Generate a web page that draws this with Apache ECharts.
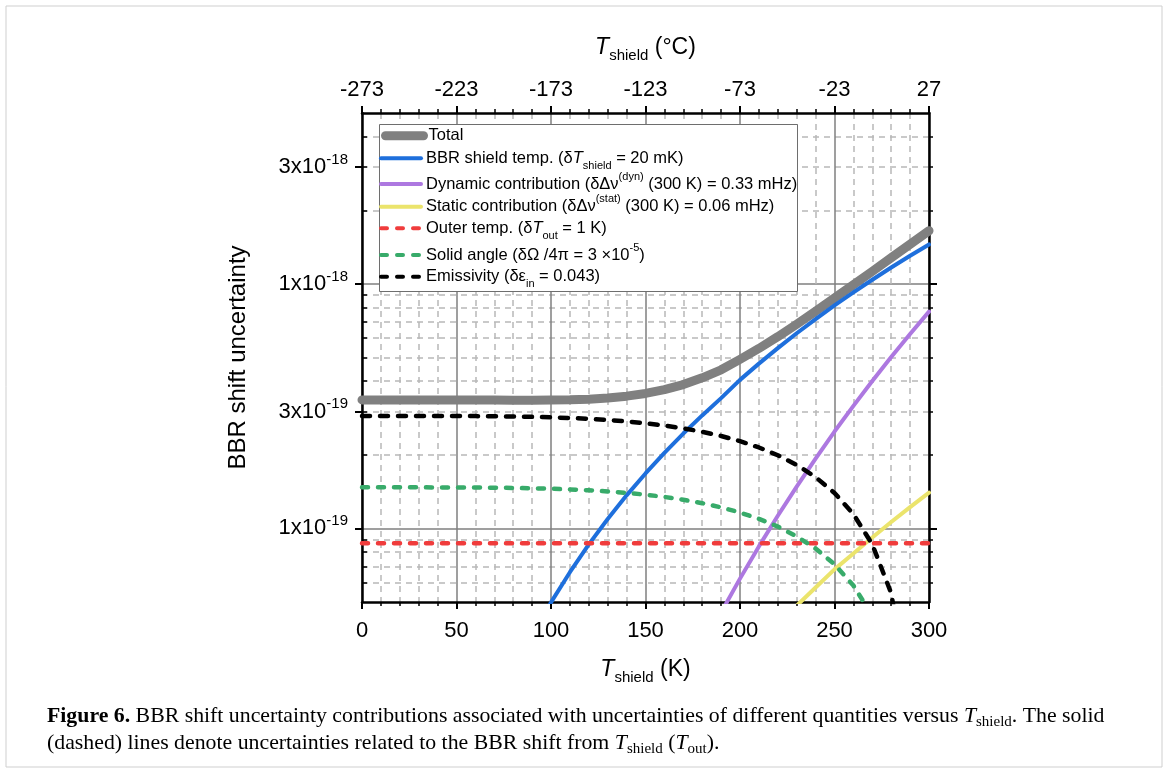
<!DOCTYPE html>
<html>
<head>
<meta charset="utf-8">
<script src="https://cdn.jsdelivr.net/npm/echarts@6/dist/echarts.min.js"></script>
<style>
html,body{margin:0;padding:0;background:#fff;}
#chart{width:1168px;height:773px;}
</style>
</head>
<body>
<div id="chart"></div>
<script>
// ---- data ----
const tempK = [0,10,20,30,40,50,60,70,80,90,100,110,120,130,140,150,160,170,180,190,200,210,220,230,240,250,260,270,280,290,300];

const totalVals = [3.353e-19,3.353e-19,3.352e-19,3.352e-19,3.351e-19,3.350e-19,3.349e-19,3.347e-19,3.346e-19,3.346e-19,3.349e-19,
  3.356e-19,3.378e-19,3.414e-19,3.474e-19,3.564e-19,3.694e-19,3.876e-19,4.131e-19,4.453e-19,4.914e-19,
  5.445e-19,6.083e-19,6.841e-19,7.725e-19,8.754e-19,9.923e-19,1.1259e-18,1.2793e-18,1.4526e-18,1.650e-18];

const shieldVals = [null,null,null,null,null,null,null,null,null,3.63e-20,4.98e-20,
  6.62e-20,8.60e-20,1.093e-19,1.365e-19,1.678e-19,2.035e-19,2.443e-19,2.898e-19,3.41e-19,4.05e-19,
  4.72e-19,5.46e-19,6.28e-19,7.18e-19,8.17e-19,9.24e-19,1.040e-18,1.167e-18,1.303e-18,1.45e-18];

const dynamicVals = [null,null,null,null,null,null,null,null,null,null,null,
  null,null,null,null,null,null,null,null,4.53e-20,6.23e-20,
  8.44e-20,1.126e-19,1.483e-19,1.93e-19,2.49e-19,3.17e-19,4.01e-19,5.02e-19,6.24e-19,7.70e-19];

const staticVals = [null,null,null,null,null,null,null,null,null,null,null,
  null,null,null,null,null,null,null,null,null,null,
  null,null,4.83e-20,5.73e-20,6.80e-20,7.90e-20,9.18e-20,1.062e-19,1.222e-19,1.40e-19];

const outerVals = tempK.map(() => 8.69e-20);

const solidAngleVals = [1.472e-19,1.472e-19,1.472e-19,1.472e-19,1.471e-19,1.471e-19,1.469e-19,1.467e-19,1.464e-19,1.459e-19,1.453e-19,
  1.443e-19,1.432e-19,1.416e-19,1.397e-19,1.374e-19,1.345e-19,1.310e-19,1.268e-19,1.219e-19,1.161e-19,
  1.094e-19,1.017e-19,9.28e-20,8.27e-20,7.13e-20,5.84e-20,4.39e-20,null,null,null];

const emissivityVals = [2.884e-19,2.884e-19,2.884e-19,2.884e-19,2.883e-19,2.882e-19,2.879e-19,2.875e-19,2.868e-19,2.859e-19,2.846e-19,
  2.829e-19,2.805e-19,2.775e-19,2.738e-19,2.691e-19,2.634e-19,2.566e-19,2.484e-19,2.388e-19,2.275e-19,
  2.143e-19,1.992e-19,1.818e-19,1.621e-19,1.396e-19,1.144e-19,8.60e-20,5.43e-20,1.90e-20,null];

const yLabelTicks = [1e-19, 3e-19, 1e-18, 3e-18];
const yMajorTicks = [1e-19, 1e-18];
const yMinorTicks = [6e-20,7e-20,8e-20,9e-20,2e-19,3e-19,4e-19,5e-19,6e-19,7e-19,8e-19,9e-19,2e-18,3e-18,4e-18];

const seriesNames = ['Total','BBR shield temp.','Dynamic contribution','Static contribution','Outer temp.','Solid angle','Emissivity'];
const legendTexts = [
  'Total',
  'BBR shield temp. (δ{i|T}{sub|shield} = 20 mK)',
  'Dynamic contribution (δΔν{sup|(dyn)} (300 K) = 0.33 mHz)',
  'Static contribution (δΔν{sup|(stat)} (300 K) = 0.06 mHz)',
  'Outer temp. (δ{i|T}{sub|out} = 1 K)',
  'Solid angle (δΩ /4π = 3 ×10{sup|-5})',
  'Emissivity (δε{sub|in} = 0.043)'
];

// ---- chart ----
const FONT = 'Liberation Sans, Arial, sans-serif';
const SERIF = 'Liberation Serif, Times New Roman, serif';
const chart = echarts.init(document.getElementById('chart'), null, {renderer: 'canvas'});

const pair = arr => tempK.map((k, i) => [k, arr[i]]);

function sciLabel(v) {
  const e = Math.floor(Math.log10(v) + 1e-9);
  const m = Math.round(v / Math.pow(10, e));
  return m + 'x10{sup|' + e + '}';
}

const yMin = 5e-20, yMax = 5e-18;
const baseY = {type: 'log', logBase: 10, min: yMin, max: yMax, gridIndex: 0};

const colors = ['#808080', '#1e6fdc', '#ad78e0', '#ebe46c', '#f03c3c', '#38ab6a', '#000000'];
const widths = [9, 4, 4, 4, 4.5, 4.5, 4.5];
const dashes = ['solid', 'solid', 'solid', 'solid', [6, 10], [6, 10], [8, 10]];

const legendRich = {
  i: {fontStyle: 'italic', fontSize: 16.5, fontFamily: FONT, lineHeight: 26, verticalAlign: 'middle'},
  sub: {fontSize: 11, fontFamily: FONT, lineHeight: 13, verticalAlign: 'bottom'},
  sup: {fontSize: 11, fontFamily: FONT, lineHeight: 13, verticalAlign: 'top'}
};
const rowCenters = [135.7, 158.3, 184, 206.7, 228.3, 255, 276.7];

const legends = seriesNames.map((n, idx) => ({
  data: [n],
  left: idx === 0 ? 381 : 379,
  top: rowCenters[idx] - 13,
  orient: 'vertical',
  padding: 0,
  itemWidth: idx === 0 ? 38 : 40,
  itemHeight: 14,
  selectedMode: false,
  z: 5,
  itemStyle: {opacity: 0, borderWidth: 0},
  lineStyle: {width: idx === 0 ? 9 : 4, color: colors[idx], type: idx >= 4 ? [6, 10] : 'solid', cap: 'round'},
  formatter: () => legendTexts[idx],
  textStyle: {fontSize: 16.5, fontFamily: FONT, color: '#000', lineHeight: 26, rich: legendRich}
}));

const lineSeries = (idx, arr, z) => ({
  name: seriesNames[idx],
  type: 'line',
  data: pair(arr),
  xAxisIndex: 0,
  yAxisIndex: 0,
  showSymbol: false,
  symbol: 'none',
  clip: true,
  z: z,
  lineStyle: {color: colors[idx], width: widths[idx], type: dashes[idx], cap: 'round', join: 'round'},
  itemStyle: {color: colors[idx]}
});

const nameRich = {
  i: {fontStyle: 'italic', fontSize: 23, fontFamily: FONT, lineHeight: 30},
  s: {fontSize: 15, fontFamily: FONT, lineHeight: 15, verticalAlign: 'bottom'}
};

const option = {
  animation: false,
  backgroundColor: '#fff',
  grid: {left: 362, right: 239, top: 113, bottom: 171, containLabel: false},
  legend: legends,
  xAxis: [
    {
      type: 'value', position: 'bottom', min: 0, max: 300, interval: 50,
      name: '{i|T}{s|shield} (K)', nameLocation: 'middle', nameGap: 53,
      nameTextStyle: {fontSize: 23, fontFamily: FONT, color: '#000', lineHeight: 30, rich: nameRich},
      axisLine: {show: true, onZero: false, lineStyle: {color: '#000', width: 2.5}},
      axisTick: {show: true, inside: false, length: 7, lineStyle: {color: '#000', width: 2}},
      minorTick: {show: true, splitNumber: 5, length: 4, lineStyle: {color: '#000', width: 1.5}},
      axisLabel: {fontSize: 22, fontFamily: FONT, color: '#000', margin: 18},
      splitLine: {show: true, lineStyle: {color: '#7f7f7f', width: 1.5}},
      minorSplitLine: {show: true, lineStyle: {color: '#b8b8b8', width: 1.5, type: [6, 5]}}
    },
    {
      type: 'value', position: 'top', min: 0, max: 300, interval: 50,
      name: '{i|T}{s|shield} (°C)', nameLocation: 'middle', nameGap: 50,
      nameTextStyle: {fontSize: 23, fontFamily: FONT, color: '#000', lineHeight: 30, rich: nameRich},
      axisLine: {show: true, onZero: false, lineStyle: {color: '#000', width: 2.5}},
      axisTick: {show: true, inside: false, length: 7, lineStyle: {color: '#000', width: 2}},
      minorTick: {show: true, splitNumber: 5, length: 4, lineStyle: {color: '#000', width: 1.5}},
      axisLabel: {fontSize: 22, fontFamily: FONT, color: '#000', margin: 12, formatter: v => String(v - 273)},
      splitLine: {show: false}
    }
  ],
  yAxis: [
    Object.assign({}, baseY, {
      position: 'left',
      name: 'BBR shift uncertainty', nameLocation: 'middle', nameGap: 112,
      nameTextStyle: {fontSize: 24, fontFamily: FONT, color: '#000'},
      axisLine: {show: true, onZero: false, lineStyle: {color: '#000', width: 2.5}},
      axisTick: {show: true, inside: false, length: 7, customValues: yLabelTicks, lineStyle: {color: '#000', width: 2}},
      axisLabel: {show: true, customValues: yLabelTicks, formatter: sciLabel, margin: 14,
        fontSize: 22, fontFamily: FONT, color: '#000', lineHeight: 30,
        rich: {sup: {fontSize: 15, fontFamily: FONT, lineHeight: 15, verticalAlign: 'top'}}},
      splitLine: {show: false}
    }),
    Object.assign({}, baseY, {
      position: 'left', offset: 0,
      axisLine: {show: false},
      axisTick: {show: true, inside: true, length: 5, customValues: yMinorTicks, lineStyle: {color: '#000', width: 1.5}},
      axisLabel: {show: false},
      splitLine: {show: true, lineStyle: {color: '#b8b8b8', width: 1.5, type: [6, 5]}}
    }),
    Object.assign({}, baseY, {
      position: 'left', offset: 0,
      axisLine: {show: false},
      axisTick: {show: false, customValues: yMajorTicks},
      axisLabel: {show: false},
      splitLine: {show: true, lineStyle: {color: '#7f7f7f', width: 1.5}}
    }),
    Object.assign({}, baseY, {
      position: 'right', offset: 0,
      axisLine: {show: true, onZero: false, lineStyle: {color: '#000', width: 2.5}},
      axisTick: {show: true, inside: false, length: 8, customValues: yMajorTicks, lineStyle: {color: '#000', width: 2}},
      axisLabel: {show: false},
      splitLine: {show: false}
    }),
    Object.assign({}, baseY, {
      position: 'right', offset: 0,
      axisLine: {show: false},
      axisTick: {show: true, inside: false, length: 4, customValues: yMinorTicks, lineStyle: {color: '#000', width: 1.5}},
      axisLabel: {show: false},
      splitLine: {show: false}
    })
  ],
  graphic: [
    {type: 'rect', z: 1, shape: {x: 6, y: 6, width: 1156, height: 761},
      style: {fill: 'none', stroke: '#cfcfcf', lineWidth: 1}},
    {type: 'rect', z: 3, shape: {x: 379.5, y: 124.5, width: 418, height: 167},
      style: {fill: '#fff', stroke: '#6e6e6e', lineWidth: 1}},
    {type: 'text', z: 3, left: 47, top: 703,
      style: {
        text: '{b|Figure 6.} BBR shift uncertainty contributions associated with uncertainties of different quantities versus {i|T}{s|shield}. The solid\n(dashed) lines denote uncertainties related to the BBR shift from {i|T}{s|shield} ({i|T}{s|out}).',
        fontSize: 21.8, fontFamily: SERIF, fill: '#000', lineHeight: 27,
        rich: {
          b: {fontWeight: 'bold', fontSize: 21.8, fontFamily: SERIF, lineHeight: 27},
          i: {fontStyle: 'italic', fontSize: 21.8, fontFamily: SERIF, lineHeight: 27},
          s: {fontSize: 15, fontFamily: SERIF, lineHeight: 20, verticalAlign: 'bottom'}
        }
      }}
  ],
  series: [
    lineSeries(0, totalVals, 2),
    lineSeries(1, shieldVals, 3),
    lineSeries(2, dynamicVals, 3),
    lineSeries(3, staticVals, 3),
    lineSeries(4, outerVals, 4),
    lineSeries(5, solidAngleVals, 4),
    lineSeries(6, emissivityVals, 4)
  ]
};

chart.setOption(option);
</script>
</body>
</html>
